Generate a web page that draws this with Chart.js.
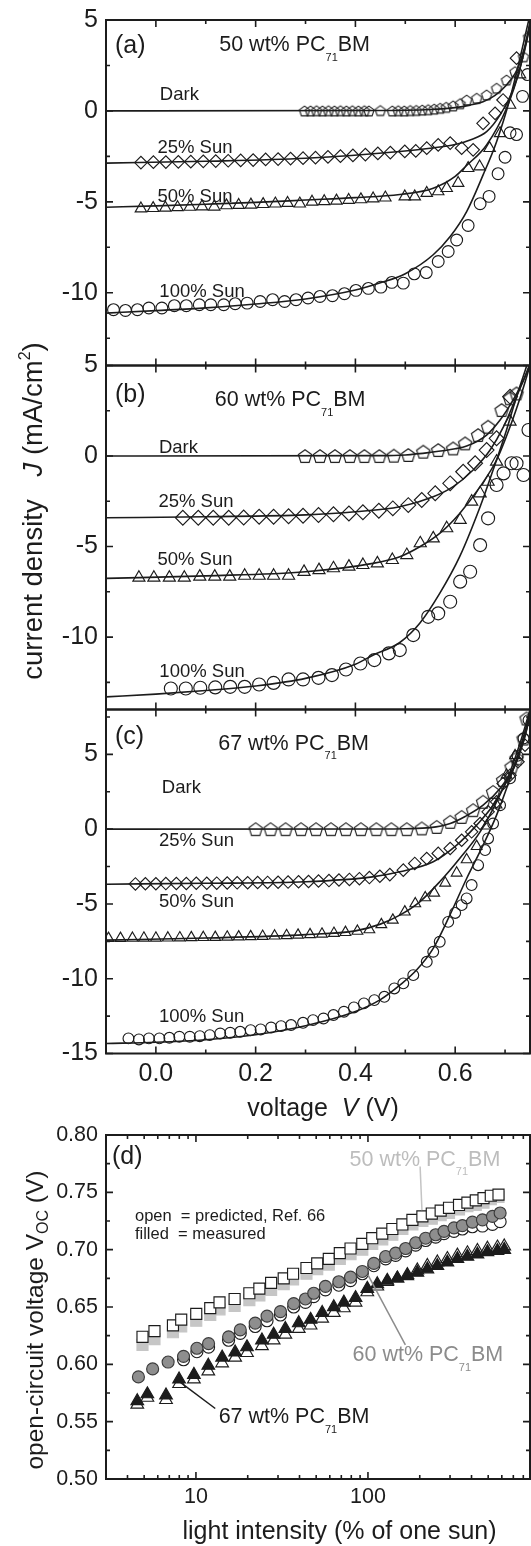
<!DOCTYPE html>
<html>
<head>
<meta charset="utf-8">
<script src="https://cdn.jsdelivr.net/npm/chart.js@4.4.1/dist/chart.umd.min.js"></script>
<style>
html,body{margin:0;padding:0;background:#fff;}
body{width:531px;height:1546px;position:relative;overflow:hidden;}
canvas{position:absolute;left:0;}
</style>
</head>
<body>
<canvas id="pa" width="531" height="396" style="top:-5px"></canvas>
<canvas id="pb" width="531" height="436" style="top:300px"></canvas>
<canvas id="pc" width="531" height="443" style="top:684px"></canvas>
<canvas id="pd" width="531" height="436" style="top:1110px"></canvas>
<script>
const FONT = '"Liberation Sans", Arial, Helvetica, sans-serif';
const INK = '#1c1c1c';
Chart.defaults.font.family = FONT;
Chart.defaults.color = INK;

// ---- panel (a): 50 wt% PC71BM, points are [V (V), J (mA/cm2)]
const fitDarkA = [[-0.1,0],[0.45,0.02],[0.55,0.08],[0.6,0.18],[0.63,0.32],[0.656,0.5],[0.68,0.85],[0.703,1.43],[0.72,2.05],[0.73,2.65],[0.74,3.6],[0.75,4.9],[0.76,6.5]];
const ptsDarkA = [[0.298,0],[0.31,0],[0.322,0.01],[0.334,0],[0.346,0.01],[0.358,0],[0.37,0.01],[0.382,0],[0.394,0.01],[0.406,0],[0.418,0.01],[0.427,0],[0.45,0.02],[0.474,0],[0.486,0.01],[0.498,0],[0.51,0.02],[0.522,0.03],[0.534,0.05],[0.546,0.07],[0.558,0.1],[0.57,0.15],[0.582,0.2],[0.596,0.28],[0.61,0.4],[0.623,0.6],[0.643,0.7],[0.663,0.88],[0.683,1.25],[0.703,1.7],[0.72,2.16],[0.737,2.98],[0.747,4.08]];
const fit25A = [[-0.1,-2.87],[0.1,-2.77],[0.3,-2.6],[0.489,-2.23],[0.55,-2.05],[0.6,-1.85],[0.63,-1.6],[0.663,-1.14],[0.69,-0.22],[0.717,1.25],[0.737,3.08],[0.75,4.7],[0.76,6.2]];
const pts25A = [[-0.03,-2.84],[-0.005,-2.82],[0.02,-2.81],[0.045,-2.8],[0.07,-2.79],[0.095,-2.77],[0.12,-2.76],[0.145,-2.74],[0.17,-2.72],[0.195,-2.7],[0.22,-2.67],[0.245,-2.65],[0.27,-2.62],[0.295,-2.6],[0.32,-2.57],[0.345,-2.53],[0.37,-2.49],[0.395,-2.45],[0.42,-2.4],[0.445,-2.34],[0.47,-2.29],[0.499,-2.23],[0.521,-2.2],[0.543,-2.05],[0.566,-1.87],[0.59,-1.77],[0.613,-2.05],[0.636,-2.14],[0.656,-0.68],[0.68,-0.13],[0.696,0.6],[0.723,2.9]];
const fit50A = [[-0.1,-5.3],[0.0,-5.22],[0.1,-5.13],[0.2,-5.03],[0.3,-4.9],[0.4,-4.77],[0.489,-4.6],[0.556,-4.25],[0.6,-3.6],[0.623,-3.0],[0.663,-1.87],[0.703,0.15],[0.73,2.35],[0.75,4.8],[0.76,6.3]];
const pts50A = [[-0.03,-5.37],[-0.0055,-5.35],[0.019,-5.33],[0.0435,-5.3],[0.068,-5.28],[0.0925,-5.26],[0.117,-5.27],[0.1415,-5.2],[0.166,-5.18],[0.1905,-5.16],[0.215,-5.13],[0.2395,-5.1],[0.264,-5.07],[0.2885,-5.1],[0.313,-5.0],[0.3375,-4.97],[0.362,-4.94],[0.3865,-4.9],[0.411,-4.87],[0.4355,-4.82],[0.46,-4.77],[0.499,-4.71],[0.519,-4.71],[0.543,-4.52],[0.566,-4.43],[0.583,-4.25],[0.606,-3.97],[0.626,-3.15],[0.649,-3.06],[0.669,-2.05],[0.69,-1.23],[0.71,0.33],[0.73,2.0]];
const fit100A = [[-0.1,-11.12],[0.0,-10.98],[0.1,-10.83],[0.2,-10.62],[0.3,-10.34],[0.4,-9.85],[0.45,-9.45],[0.5,-8.95],[0.556,-7.91],[0.59,-6.91],[0.623,-5.54],[0.656,-3.52],[0.683,-1.69],[0.71,0.7],[0.73,2.9],[0.75,5.3],[0.76,6.6]];
const pts100A = [[-0.085,-10.93],[-0.061,-10.97],[-0.037,-10.93],[-0.014,-10.84],[0.012,-10.84],[0.037,-10.71],[0.061,-10.71],[0.087,-10.66],[0.11,-10.66],[0.136,-10.66],[0.159,-10.6],[0.183,-10.57],[0.209,-10.48],[0.234,-10.38],[0.258,-10.48],[0.281,-10.38],[0.305,-10.29],[0.329,-10.2],[0.354,-10.16],[0.378,-10.05],[0.401,-9.87],[0.426,-9.76],[0.451,-9.69],[0.473,-9.43],[0.496,-9.47],[0.518,-8.96],[0.542,-8.89],[0.566,-8.28],[0.586,-7.73],[0.603,-7.1],[0.626,-6.3],[0.65,-5.1],[0.668,-4.7],[0.686,-3.45],[0.7,-2.55],[0.71,-1.2],[0.723,-1.3],[0.735,0.8],[0.745,2.0]];

// ---- panel (b): 60 wt% PC71BM
const fitDarkB = [[-0.1,0],[0.45,0.02],[0.5,0.06],[0.55,0.2],[0.6,0.4],[0.623,0.55],[0.663,1.16],[0.69,1.99],[0.716,3.09],[0.737,4.2],[0.75,5.1],[0.76,5.8]];
const ptsDarkB = [[0.299,0],[0.329,0],[0.359,0],[0.389,0],[0.418,0],[0.448,0],[0.477,0.02],[0.506,0.06],[0.536,0.24],[0.566,0.33],[0.596,0.42],[0.62,0.7],[0.646,1.16],[0.666,1.62],[0.693,2.54],[0.71,3.19],[0.723,3.46]];
const fit25B = [[-0.1,-3.41],[0.1,-3.35],[0.3,-3.25],[0.4,-3.08],[0.489,-2.8],[0.556,-2.25],[0.596,-1.69],[0.636,-0.77],[0.67,0.33],[0.697,1.62],[0.723,3.28],[0.743,4.57],[0.755,5.4]];
const pts25B = [[0.054,-3.41],[0.085,-3.41],[0.115,-3.41],[0.146,-3.41],[0.176,-3.4],[0.207,-3.35],[0.236,-3.35],[0.266,-3.33],[0.295,-3.3],[0.326,-3.26],[0.356,-3.22],[0.387,-3.17],[0.415,-3.11],[0.447,-3.02],[0.475,-2.89],[0.506,-2.71],[0.533,-2.43],[0.56,-2.06],[0.59,-1.51],[0.616,-0.87],[0.64,-0.4],[0.663,0.33],[0.683,0.98],[0.71,3.28]];
const fit50B = [[-0.1,-6.76],[0.1,-6.62],[0.3,-6.39],[0.435,-5.93],[0.489,-5.56],[0.529,-5.01],[0.569,-4.27],[0.609,-3.17],[0.65,-1.69],[0.683,-0.22],[0.71,1.62],[0.733,3.46],[0.75,5.0],[0.76,5.9]];
const pts50B = [[-0.034,-6.72],[-0.004,-6.72],[0.027,-6.72],[0.057,-6.72],[0.088,-6.66],[0.118,-6.66],[0.148,-6.66],[0.178,-6.61],[0.207,-6.61],[0.236,-6.61],[0.266,-6.61],[0.297,-6.4],[0.327,-6.3],[0.356,-6.2],[0.387,-6.11],[0.415,-6.02],[0.444,-5.93],[0.474,-5.74],[0.503,-5.47],[0.53,-4.82],[0.556,-4.55],[0.583,-3.99],[0.61,-3.53],[0.633,-2.52],[0.65,-2.06],[0.666,-1.42],[0.683,-0.31],[0.71,1.9]];
const fit100B = [[-0.1,-13.3],[0.0,-13.15],[0.1,-12.95],[0.2,-12.7],[0.3,-12.28],[0.4,-11.5],[0.435,-11.0],[0.489,-10.3],[0.529,-9.24],[0.569,-7.59],[0.609,-5.56],[0.65,-2.8],[0.676,-0.77],[0.703,1.44],[0.723,3.28],[0.74,4.7],[0.755,6.0]];
const pts100B = [[0.03,-12.84],[0.06,-12.84],[0.089,-12.8],[0.119,-12.78],[0.149,-12.75],[0.178,-12.75],[0.207,-12.62],[0.236,-12.53],[0.266,-12.34],[0.295,-12.34],[0.326,-12.25],[0.353,-12.1],[0.381,-11.79],[0.41,-11.46],[0.438,-11.27],[0.467,-10.9],[0.489,-10.72],[0.516,-9.89],[0.546,-8.88],[0.566,-8.69],[0.59,-8.05],[0.61,-6.94],[0.63,-6.39],[0.65,-4.92],[0.666,-3.44],[0.683,-1.6],[0.697,-0.96],[0.713,-0.4],[0.723,-0.4],[0.737,-1.05],[0.747,1.44]];

// ---- panel (c): 67 wt% PC71BM
const fitDarkC = [[-0.1,0],[0.45,0.01],[0.5,0.03],[0.55,0.1],[0.59,0.38],[0.62,0.85],[0.656,1.6],[0.69,2.72],[0.716,4.06],[0.737,5.84],[0.75,7.6],[0.755,8.4]];
const ptsDarkC = [[0.2,0],[0.23,0],[0.26,0],[0.291,0],[0.321,0],[0.351,0],[0.381,0],[0.411,0],[0.442,0],[0.472,0],[0.503,0],[0.533,0.05],[0.563,0.15],[0.59,0.49],[0.613,0.82],[0.636,1.27],[0.656,1.83],[0.676,2.49],[0.696,3.28],[0.713,4.17],[0.723,4.73],[0.737,6.06],[0.743,7.4]];
const fit25C = [[-0.1,-3.68],[0.1,-3.62],[0.3,-3.52],[0.434,-3.19],[0.489,-2.85],[0.556,-2.18],[0.603,-1.07],[0.643,0.27],[0.676,1.6],[0.703,3.16],[0.723,4.5],[0.74,6.28],[0.75,7.6],[0.755,8.3]];
const pts25C = [[-0.041,-3.66],[-0.021,-3.65],[0.0,-3.65],[0.02,-3.64],[0.041,-3.63],[0.061,-3.63],[0.081,-3.62],[0.102,-3.62],[0.122,-3.61],[0.143,-3.6],[0.163,-3.59],[0.184,-3.58],[0.204,-3.57],[0.224,-3.56],[0.245,-3.55],[0.265,-3.54],[0.286,-3.52],[0.306,-3.5],[0.326,-3.47],[0.347,-3.44],[0.367,-3.4],[0.388,-3.36],[0.408,-3.31],[0.428,-3.24],[0.449,-3.15],[0.469,-3.04],[0.496,-2.74],[0.519,-2.29],[0.543,-1.96],[0.566,-1.62],[0.59,-1.29],[0.613,-0.74],[0.633,-0.18],[0.65,0.38],[0.666,1.16],[0.683,1.83],[0.696,3.05],[0.71,3.61],[0.726,4.5],[0.74,5.61]];
const fit50C = [[-0.1,-7.42],[0.1,-7.28],[0.3,-7.05],[0.4,-6.8],[0.45,-6.35],[0.489,-5.75],[0.529,-4.86],[0.569,-3.52],[0.609,-1.96],[0.65,-0.18],[0.683,1.83],[0.71,3.83],[0.733,6.06],[0.75,8.0],[0.755,8.6]];
const pts50C = [[-0.095,-7.3],[-0.071,-7.3],[-0.047,-7.29],[-0.024,-7.28],[0.0,-7.28],[0.024,-7.27],[0.048,-7.26],[0.071,-7.25],[0.095,-7.24],[0.119,-7.23],[0.143,-7.21],[0.166,-7.2],[0.19,-7.18],[0.214,-7.16],[0.238,-7.14],[0.262,-7.11],[0.285,-7.08],[0.309,-7.05],[0.333,-7.01],[0.357,-6.96],[0.38,-6.9],[0.404,-6.82],[0.428,-6.72],[0.452,-6.38],[0.475,-6.08],[0.499,-5.53],[0.52,-4.98],[0.54,-4.58],[0.558,-4.27],[0.58,-3.6],[0.603,-2.93],[0.623,-2.04],[0.643,-1.15],[0.663,0.22],[0.683,1.62],[0.703,3.62],[0.72,4.92]];
const fit100C = [[-0.1,-14.33],[0.0,-14.25],[0.1,-14.08],[0.2,-13.75],[0.3,-13.15],[0.4,-12.2],[0.45,-11.4],[0.489,-10.43],[0.523,-9.4],[0.556,-7.97],[0.59,-5.7],[0.623,-3.3],[0.656,-1.07],[0.683,0.94],[0.71,3.39],[0.73,5.39],[0.747,7.4],[0.755,8.5]];
const pts100C = [[-0.055,-13.99],[-0.034,-14.06],[-0.014,-13.99],[0.007,-13.99],[0.027,-13.95],[0.047,-13.88],[0.068,-13.88],[0.088,-13.84],[0.108,-13.77],[0.129,-13.66],[0.149,-13.61],[0.169,-13.55],[0.19,-13.44],[0.21,-13.39],[0.231,-13.26],[0.251,-13.17],[0.271,-13.1],[0.295,-12.95],[0.315,-12.77],[0.336,-12.66],[0.356,-12.43],[0.377,-12.21],[0.397,-11.92],[0.417,-11.65],[0.438,-11.43],[0.458,-11.21],[0.478,-10.65],[0.496,-10.31],[0.516,-9.76],[0.543,-8.87],[0.556,-8.2],[0.569,-7.53],[0.586,-6.2],[0.6,-5.6],[0.613,-5.08],[0.623,-4.63],[0.633,-3.74],[0.646,-2.41],[0.66,-1.4],[0.666,-0.62],[0.676,0.38],[0.69,1.6],[0.71,3.4],[0.725,4.9],[0.737,6.06],[0.747,7.29]];

// ---- panel (d): light intensity (% of one sun) vs open-circuit voltage (V)
const intSq = [4.89,5.74,7.35,8.21,10.04,12.11,13.71,16.78,20.44,23.37,27.35,32.37,36.7,43.9,50.7,59.2,68.6,79.2,92.7,105.9,121.1,138.6,158.5,181.3,207.2,235,264.6,295.9,338.3,378.5,423.4,469.6,517.6,574];
const vocSqPred = [0.624,0.629,0.634,0.639,0.644,0.649,0.654,0.657,0.662,0.666,0.671,0.675,0.679,0.684,0.688,0.692,0.697,0.701,0.705,0.71,0.714,0.718,0.722,0.726,0.729,0.7315,0.734,0.7365,0.739,0.741,0.743,0.745,0.747,0.748];
const vocSqMeas = [0.617,0.622,0.628,0.633,0.638,0.643,0.648,0.651,0.656,0.66,0.665,0.67,0.674,0.679,0.683,0.687,0.692,0.696,0.7,0.705,0.709,0.713,0.718,0.722,0.725,0.727,0.73,0.732,0.735,0.738,0.739,0.741,0.744,0.746];
const intCircMeas = [4.63,5.6,6.89,8.47,10.13,11.84,15.48,18.1,22.1,25.9,31,37,43.3,48.4,56.6,67.7,79.2,92.7,108.2,126.7,144.8,165.6,189.4,216.5,247.5,276.7,316.3,354,404.7,463,529.6,586.6];
const vocCircMeas = [0.589,0.596,0.602,0.607,0.614,0.618,0.624,0.63,0.636,0.642,0.646,0.653,0.657,0.662,0.668,0.672,0.676,0.681,0.688,0.694,0.697,0.701,0.706,0.71,0.713,0.716,0.719,0.721,0.724,0.726,0.729,0.732];
const intCircPred = [8.47,10.13,11.84,15.48,18.1,22.1,25.9,31,37,43.3,48.4,56.6,67.7,79.2,92.7,108.2,126.7,144.8,165.6,189.4,216.5,247.5,276.7,316.3,354,404.7,463,529.6,586.6];
const vocCircPred = [0.604,0.611,0.615,0.621,0.627,0.633,0.638,0.643,0.65,0.654,0.659,0.665,0.669,0.673,0.679,0.686,0.692,0.695,0.699,0.704,0.708,0.711,0.714,0.716,0.718,0.72,0.7206,0.722,0.7244];
const intTri = [4.56,5.22,6.7,7.98,9.73,11.8,14.2,16.9,19.8,24.2,28.3,33.1,39.6,46.4,54.2,63.3,72.4,84.7,99.1,113.3,129.5,148.2,169.4,193.7,221.5,253.2,289.5,331,378.6,433,495,566,620];
const vocTriMeas = [0.568,0.574,0.573,0.587,0.591,0.599,0.606,0.6105,0.615,0.621,0.626,0.631,0.636,0.639,0.645,0.65,0.654,0.658,0.666,0.67,0.673,0.675,0.677,0.68,0.683,0.686,0.689,0.692,0.694,0.696,0.698,0.699,0.70];
const vocTriPred = [0.565,0.571,0.569,0.583,0.587,0.594,0.601,0.606,0.61,0.616,0.621,0.626,0.631,0.634,0.64,0.645,0.649,0.654,0.663,0.668,0.672,0.675,0.678,0.682,0.686,0.689,0.692,0.695,0.697,0.699,0.701,0.702,0.703];

// ---- tick values
const vMajor = [0, 0.2, 0.4, 0.6];
const vMinor = [-0.1, 0.1, 0.3, 0.5, 0.7];
const jMajorAB = [5, 0, -5, -10];
const jMinorAB = [2.5, -2.5, -7.5, -12.5];
const jMajorC = [5, 0, -5, -10, -15];
const jMinorC = [7.5, 2.5, -2.5, -7.5, -12.5];
const intMajor = [10, 100];
const intMinor = [3,4,5,6,7,8,9,20,30,40,50,60,70,80,90,200,300,400,500,600,700,800];
const vocMajor = [0.5, 0.55, 0.6, 0.65, 0.7, 0.75, 0.8];
const vocMinor = [0.525, 0.575, 0.625, 0.675, 0.725, 0.775];

const zip = (xs, ys) => xs.map((x, i) => [x, ys[i]]);
const font = (size, style) => `${style || ''} ${size}px ${FONT}`;

function pentagon(r, lw) {
  const s = Math.ceil(2 * r + lw + 2);
  const c = document.createElement('canvas');
  c.width = s; c.height = s;
  const g = c.getContext('2d');
  g.strokeStyle = INK; g.lineWidth = lw;
  const cy = s / 2 + 0.0955 * r;
  g.beginPath();
  for (let i = 0; i < 5; i++) {
    const t = -Math.PI / 2 + i * 2 * Math.PI / 5;
    const px = s / 2 + r * Math.cos(t), py = cy + r * Math.sin(t);
    if (i) g.lineTo(px, py); else g.moveTo(px, py);
  }
  g.closePath(); g.stroke();
  return c;
}

function rich(ctx, x, y, parts, align, color) {
  let w = 0;
  parts.forEach(p => { ctx.font = font(p[1], p[2]); w += ctx.measureText(p[0]).width; });
  let cx = align === 'center' ? x - w / 2 : align === 'right' ? x - w : x;
  ctx.fillStyle = color || INK;
  ctx.textAlign = 'left';
  ctx.textBaseline = 'alphabetic';
  parts.forEach(p => {
    ctx.font = font(p[1], p[2]);
    ctx.fillText(p[0], cx, y + (p[3] || 0));
    cx += ctx.measureText(p[0]).width;
  });
}

const pcbm = (pre, size) => [[pre + ' wt% PC', size], ['71', size * 0.51, '', size * 0.45], ['BM', size]];

// frame, inward ticks on all four sides, annotations and axis titles
const decor = {
  id: 'decor',
  afterDraw(chart, args, o) {
    const { ctx, chartArea: a } = chart;
    const x = chart.scales.x, y = chart.scales.y;
    ctx.save();
    ctx.strokeStyle = INK;
    ctx.lineWidth = 1.6;
    ctx.beginPath();
    const xt = (vals, len) => vals.forEach(v => {
      const p = x.getPixelForValue(v);
      if (p < a.left - 0.5 || p > a.right + 0.5) return;
      ctx.moveTo(p, a.top); ctx.lineTo(p, a.top + len);
      ctx.moveTo(p, a.bottom); ctx.lineTo(p, a.bottom - len);
    });
    const yt = (vals, len) => vals.forEach(v => {
      const p = y.getPixelForValue(v);
      if (p < a.top - 0.5 || p > a.bottom + 0.5) return;
      ctx.moveTo(a.left, p); ctx.lineTo(a.left + len, p);
      ctx.moveTo(a.right, p); ctx.lineTo(a.right - len, p);
    });
    xt(o.xMajor, 7); xt(o.xMinor, 4);
    yt(o.yMajor, 7); yt(o.yMinor, 4);
    ctx.stroke();
    ctx.lineWidth = 2;
    ctx.strokeRect(a.left, a.top, a.right - a.left, a.bottom - a.top);

    (o.leaders || []).forEach(l => {
      ctx.strokeStyle = l.color; ctx.lineWidth = 1.5;
      ctx.beginPath();
      ctx.moveTo(x.getPixelForValue(l.from[0]), y.getPixelForValue(l.from[1]));
      ctx.lineTo(x.getPixelForValue(l.to[0]), y.getPixelForValue(l.to[1]));
      ctx.stroke();
    });
    (o.texts || []).forEach(t => {
      const px = x.getPixelForValue(t.at[0]);
      const py = y.getPixelForValue(t.at[1]) + 0.36 * t.parts[0][1];
      rich(ctx, px, py, t.parts, t.align || 'left', t.color);
    });
    (o.titles || []).forEach(t => {
      ctx.save();
      ctx.translate(t.x, t.y);
      if (t.rotate) ctx.rotate(-Math.PI / 2);
      rich(ctx, 0, 0.36 * t.parts[0][1], t.parts, 'center', INK);
      ctx.restore();
    });
    ctx.restore();
  }
};

const fitLine = (data) => ({
  data, showLine: true, borderColor: INK, borderWidth: 1.6, pointRadius: 0,
  cubicInterpolationMode: 'monotone', capBezierPoints: false, fill: false, order: 0
});
const marks = (data, style, r, extra) => Object.assign({
  data, showLine: false, pointStyle: style, pointRadius: r,
  pointBorderColor: INK, pointBackgroundColor: 'rgba(0,0,0,0)', pointBorderWidth: 1.15
}, extra || {});

function yAxis(min, max, major, size, fmt) {
  return {
    type: 'linear', min, max,
    grid: { display: false, drawTicks: false }, border: { display: false },
    afterBuildTicks: s => { s.ticks = major.map(v => ({ value: v })); },
    afterFit: s => { s.width = 106; },
    ticks: { font: { size }, color: INK, padding: 8, callback: fmt }
  };
}

function jvPanel(id, o) {
  return new Chart(document.getElementById(id), {
    type: 'scatter',
    data: { datasets: o.datasets },
    options: {
      responsive: false, animation: false, events: [],
      layout: { padding: o.pad, autoPadding: false },
      plugins: {
        legend: { display: false }, tooltip: { enabled: false },
        decor: Object.assign({ xMajor: vMajor, xMinor: vMinor }, o.decor)
      },
      scales: {
        x: {
          type: 'linear', min: -0.1, max: 0.75, display: o.showX,
          grid: { display: false, drawTicks: false }, border: { display: false },
          afterBuildTicks: s => { s.ticks = vMajor.map(v => ({ value: v })); },
          afterFit: s => { s.height = o.showX ? 73.5 : 0; },
          ticks: { font: { size: 25 }, color: INK, padding: 6, maxRotation: 0, autoSkip: false, callback: v => v.toFixed(1) }
        },
        y: yAxis(o.yMin, o.yMax, o.yMajor, 25, v => String(v))
      }
    },
    plugins: [decor]
  });
}

const curveLabels = (d, s25, s50, s100) => [
  { at: d, parts: [['Dark', 18.5]] },
  { at: s25, parts: [['25% Sun', 18.5]] },
  { at: s50, parts: [['50% Sun', 18.5]] },
  { at: s100, parts: [['100% Sun', 18.5]] }
];

jvPanel('pa', {
  pad: { top: 25, bottom: 25.5, left: 0, right: 1 }, showX: false,
  yMin: -14, yMax: 5, yMajor: jMajorAB,
  decor: {
    yMajor: jMajorAB, yMinor: jMinorAB,
    texts: [
      { at: [-0.082, 3.68], parts: [['(a)', 25]] },
      { at: [0.127, 3.72], parts: pcbm('50', 21.5) }
    ].concat(curveLabels([0.008, 0.97], [0.003, -1.96], [0.003, -4.62], [0.007, -9.84]))
  },
  datasets: [
    fitLine(fitDarkA), fitLine(fit25A), fitLine(fit50A), fitLine(fit100A),
    marks(ptsDarkA, pentagon(5.4, 1.1), 5.4),
    marks(pts25A, 'rectRot', 6.3),
    marks(pts50A, 'triangle', 6.6),
    marks(pts100A, 'circle', 5.9)
  ]
});

jvPanel('pb', {
  pad: { top: 65.5, bottom: 26.5, left: 0, right: 1 }, showX: false,
  yMin: -14, yMax: 5, yMajor: jMajorAB,
  decor: {
    yMajor: jMajorAB, yMinor: jMinorAB,
    texts: [
      { at: [-0.082, 3.46], parts: [['(b)', 25]] },
      { at: [0.118, 3.19], parts: pcbm('60', 21.5) }
    ].concat(curveLabels([0.006, 0.51], [0.005, -2.43], [0.003, -5.65], [0.007, -11.82])),
    titles: [
      { x: 32, y: 211, rotate: true, parts: [['current density   ', 27.5], ['J', 27.5, 'italic'], [' (mA/cm', 27.5], ['2', 16, '', -12], [')', 27.5]] }
    ]
  },
  datasets: [
    fitLine(fitDarkB), fitLine(fit25B), fitLine(fit50B), fitLine(fit100B),
    marks(ptsDarkB, pentagon(7, 1.15), 7),
    marks(pts25B, 'rectRot', 7.4),
    marks(pts50B, 'triangle', 7),
    marks(pts100B, 'circle', 6.5)
  ]
});

jvPanel('pc', {
  pad: { top: 25.5, bottom: 0, left: 0, right: 1 }, showX: true,
  yMin: -15, yMax: 8, yMajor: jMajorC,
  decor: {
    yMajor: jMajorC, yMinor: jMinorC,
    texts: [
      { at: [-0.082, 6.28], parts: [['(c)', 25]] },
      { at: [0.125, 5.84], parts: pcbm('67', 21.5) }
    ].concat(curveLabels([0.012, 2.83], [0.006, -0.69], [0.006, -4.75], [0.006, -12.43])),
    titles: [
      { x: 323, y: 423, parts: [['voltage  ', 25], ['V', 25, 'italic'], [' (V)', 25]] }
    ]
  },
  datasets: [
    fitLine(fitDarkC), fitLine(fit25C), fitLine(fit50C), fitLine(fit100C),
    marks(ptsDarkC, pentagon(7, 1.1), 7),
    marks(pts25C, 'rectRot', 6.2),
    marks(pts50C, 'triangle', 6.2),
    marks(pts100C, 'circle', 5.4)
  ]
});

new Chart(document.getElementById('pd'), {
  type: 'scatter',
  data: {
    datasets: [
      marks(zip(intSq, vocSqPred), 'rect', 7.8, { pointBackgroundColor: '#ffffff', order: 1 }),
      marks(zip(intSq, vocSqMeas), 'rect', 7.8, { pointBackgroundColor: '#c6c6c6', pointBorderColor: '#c6c6c6', order: 2 }),
      marks(zip(intCircMeas, vocCircMeas), 'circle', 6, { pointBackgroundColor: '#8e8e8e', pointBorderColor: '#3c3c3c', order: 3 }),
      marks(zip(intCircPred, vocCircPred), 'circle', 6, { pointBackgroundColor: '#ffffff', order: 4 }),
      marks(zip(intTri, vocTriMeas), 'triangle', 7.3, { pointBackgroundColor: INK, order: 5 }),
      marks(zip(intTri, vocTriPred), 'triangle', 7.3, { pointBackgroundColor: '#ffffff', order: 6 })
    ]
  },
  options: {
    responsive: false, animation: false, events: [],
    layout: { padding: { top: 25, bottom: 0, left: 0, right: 1 }, autoPadding: false },
    plugins: {
      legend: { display: false }, tooltip: { enabled: false },
      decor: {
        xMajor: intMajor, xMinor: intMinor, yMajor: vocMajor, yMinor: vocMinor,
        leaders: [
          { from: [201, 0.7725], to: [206, 0.7345], color: '#c4c4c4' },
          { from: [100, 0.678], to: [165, 0.617], color: '#8c8c8c' },
          { from: [8.05, 0.5847], to: [12.95, 0.5615], color: INK }
        ],
        texts: [
          { at: [3.25, 0.7825], parts: [['(d)', 25]] },
          { at: [4.42, 0.7298], parts: [['open  = predicted, Ref. 66', 16.5]] },
          { at: [4.42, 0.7142], parts: [['filled  = measured', 16.5]] },
          { at: [588, 0.780], parts: pcbm('50', 21.5), align: 'right', color: '#bdbdbd' },
          { at: [81.3, 0.6095], parts: pcbm('60', 21.5), color: '#8c8c8c' },
          { at: [13.55, 0.5557], parts: pcbm('67', 21.5) }
        ],
        titles: [
          { x: 339.5, y: 420, parts: [['light intensity (% of one sun)', 25]] },
          { x: 34, y: 210, rotate: true, parts: [['open-circuit voltage V', 24.5], ['OC', 16, '', 5], [' (V)', 24.5]] }
        ]
      }
    },
    scales: {
      x: {
        type: 'logarithmic', min: 3, max: 875,
        grid: { display: false, drawTicks: false }, border: { display: false },
        afterBuildTicks: s => { s.ticks = intMajor.map(v => ({ value: v })); },
        afterFit: s => { s.height = 67; },
        ticks: { font: { size: 21.5 }, color: INK, padding: 5, maxRotation: 0, autoSkip: false, callback: v => String(v) }
      },
      y: yAxis(0.5, 0.8, vocMajor, 21.5, v => v.toFixed(2))
    }
  },
  plugins: [decor]
});
</script>
</body>
</html>
